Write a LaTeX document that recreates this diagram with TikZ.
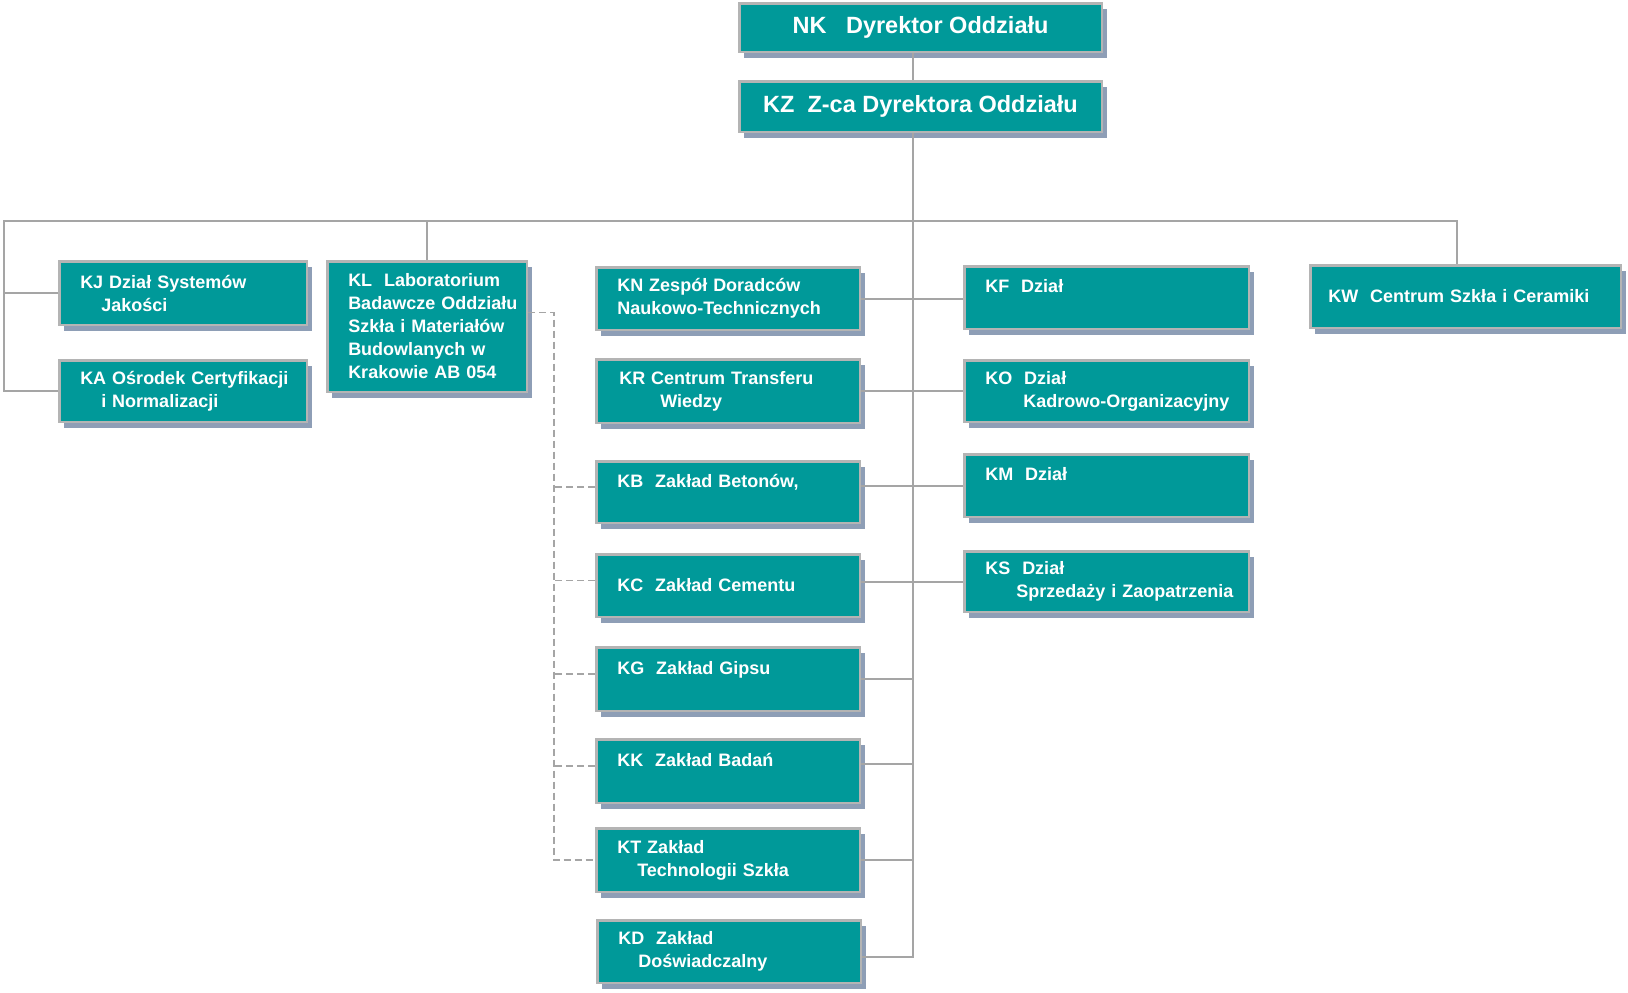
\documentclass[tikz,border=0pt]{standalone}
\usepackage{fontspec}
\setmainfont{Liberation Sans}
\usetikzlibrary{shadows,calc}
\definecolor{boxteal}{RGB}{0,153,153}
\definecolor{boxrim}{RGB}{180,180,180}
\definecolor{boxshade}{RGB}{142,158,182}
\definecolor{linegray}{RGB}{165,165,165}

\begin{document}
\begin{tikzpicture}[x=1pt,y=-1pt]
    \tikzset{unit/.style = {shape=rectangle,draw=boxrim,line width=2.5pt,fill=boxteal,text=white,
        font=\bfseries\fontsize{18}{23}\selectfont,align=left,inner xsep=4pt,inner ysep=0pt,
        execute at begin node={\leftskip=17pt},
        drop shadow={shadow xshift=5pt,shadow yshift=-6pt,fill=boxshade,opacity=1}}}
    \tikzset{head/.style = {unit,align=center,font=\bfseries\fontsize{23.5}{28}\selectfont,
        execute at begin node={},minimum width=362.5pt}}
    \tikzset{lcol/.style = {unit,text width=239.5pt}}
    \tikzset{mcol/.style = {unit,text width=255.5pt}}
    \tikzset{rcol/.style = {unit,text width=276.5pt}}
    \tikzset{link/.style = {draw=linegray,line width=2pt}}
    \tikzset{dashline/.style = {draw=linegray,line width=1.6pt,dash pattern=on 7pt off 4pt}}
    \useasboundingbox (0,0) rectangle (1628,993);
    % management
    \node[head,minimum height=48.5pt] (nk) at (920.5,27.5) {NK~~~Dyrektor Oddziału};
    \node[head,minimum height=50.5pt] (kz) at (920.5,106.5) {KZ~~Z-ca Dyrektora Oddziału};
    % left side
    \node[lcol,minimum height=63.5pt] (kj) at (183,293) {KJ Dział Systemów\\\hspace*{21pt}Jakości};
    \node[lcol,minimum height=61.5pt] (ka) at (183,391) {KA Ośrodek Certyfikacji\\\hspace*{21pt}i Normalizacji};
    \node[unit,text width=191.5pt,minimum height=130.5pt] (kl) at (427,326.5)
        {KL~~Laboratorium\\Badawcze Oddziału\\Szkła i Materiałów\\Budowlanych w\\Krakowie AB 054};
    % middle column
    \node[mcol,minimum height=62.5pt] (kn) at (728,298.5) {KN Zespół Doradców\\Naukowo-Technicznych};
    \node[mcol,minimum height=63.5pt] (kr) at (728,391) {\hspace*{2pt}KR Centrum Transferu\\\hspace*{43pt}Wiedzy};
    \node[mcol,minimum height=61.5pt] (kb) at (728,492) {KB~~Zakład Betonów,\\\mbox{}};
    \node[mcol,minimum height=62.5pt] (kc) at (728,585.5) {KC~~Zakład Cementu};
    \node[mcol,minimum height=63.5pt] (kg) at (728,679) {KG~~Zakład Gipsu\\\mbox{}};
    \node[mcol,minimum height=63.5pt] (kk) at (728,771) {KK~~Zakład Badań\\\mbox{}};
    \node[mcol,minimum height=63.5pt] (kt) at (728,860) {KT Zakład\\\hspace*{20pt}Technologii Szkła};
    \node[mcol,minimum height=62.5pt] (kd) at (729,951.5) {KD~~Zakład\\\hspace*{20pt}Doświadczalny};
    % right column
    \node[rcol,minimum height=62.5pt] (kf) at (1106.5,297.5) {KF~~Dział\\\mbox{}};
    \node[rcol,minimum height=61.5pt] (ko) at (1106.5,391) {KO~~Dział\\\hspace*{38pt}Kadrowo-Organizacyjny};
    \node[rcol,minimum height=62.5pt] (km) at (1106.5,485.5) {KM~~Dział\\\mbox{}};
    \node[rcol,minimum height=60.5pt] (ks) at (1106.5,581.5) {KS~~Dział\\\hspace*{31pt}Sprzedaży i Zaopatrzenia};
    \node[unit,text width=302.5pt,minimum height=62.5pt,execute at begin node={\leftskip=14pt}] (kw)
        at (1465.5,296.5) {KW~~Centrum Szkła i Ceramiki};
    % connectors
    \coordinate (barL) at (4,221);
    \coordinate (barR) at (1457,221);
    \coordinate (spine) at (913,957);
    \coordinate (dash) at (554,860);
    \draw[link] (nk.south -| spine) -- (kz.north -| spine);
    \draw[link] (kz.south -| spine) -- (spine) -- (spine -| kd.east);
    \draw[link] (ka.west) -| (barL) -- (barR) -- (barR |- kw.north);
    \draw[link] (kj.west) -- (kj.west -| barL);
    \draw[link] (kl.north) -- (kl.north |- barL);
    \draw[link] (kn.east) -- (kn.east -| kf.west);
    \draw[link] (kr.east) -- (kr.east -| ko.west);
    \draw[link] (km.west) -- (km.west -| kb.east);
    \draw[link] (ks.west) -- (ks.west -| kc.east);
    \draw[link] (kg.east) -- (kg.east -| spine);
    \draw[link] ([yshift=7pt]kk.east) -- ([yshift=7pt]kk.east -| spine);
    \draw[link] (kt.east) -- (kt.east -| spine);
    % dashed links of the laboratory
    \draw[dashline] ([yshift=14pt]kl.east) -| (dash) -- (kt.west);
    \foreach \u in {kb,kc,kg,kk}
        \draw[dashline] ([yshift=5pt]\u.west) -- ([yshift=5pt]\u.west -| dash);
\end{tikzpicture}
\end{document}
